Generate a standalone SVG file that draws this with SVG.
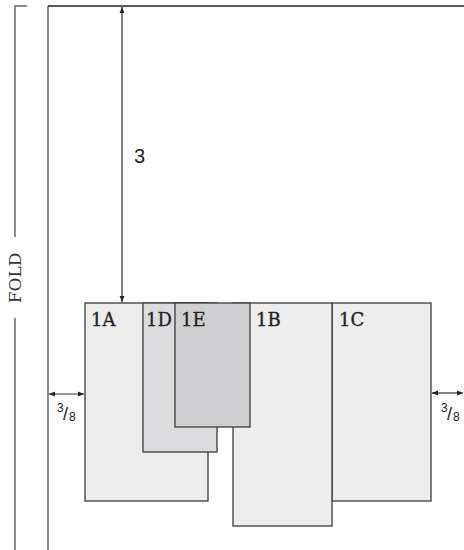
<svg xmlns="http://www.w3.org/2000/svg" width="464" height="550" viewBox="0 0 464 550">
<style>
.pg{fill:none;stroke:#666;stroke-width:1.5}
.pc{stroke:#222;stroke-width:1.6;fill:none}
.dim{stroke:#333;stroke-width:1.2;fill:none}
.p{stroke:#3a3a3a;stroke-width:1.3}
.l{fill:#ededed}.m{fill:#dcdcde}.d{fill:#cfcfd1}
.lab{font-family:"DejaVu Serif",serif;font-size:18px;fill:#222;stroke:#222;stroke-width:0.3}
.num{font-family:"Liberation Sans",sans-serif;fill:#222}
</style>
<defs>
<marker id="ah" viewBox="0 0 10 10" refX="10" refY="5" markerWidth="6" markerHeight="6" orient="auto-start-reverse" markerUnits="userSpaceOnUse">
<path d="M0,1 L10,5 L0,9 z" fill="#222"/>
</marker>
</defs>
<g id="fold">
<path class="pg" d="M27,6 H15 V237 M15,318 V550"/>
<text class="lab" transform="translate(21,278) rotate(-90)" text-anchor="middle" style="font-size:17px;stroke-width:0;fill:#333">FOLD</text>
</g>
<g id="page">
<path class="pg" d="M48,550 V6"/>
<path class="pc" d="M48,6 H464"/>
</g>
<g id="pieces">
<g id="p1A"><rect class="p l" x="85" y="303" width="123" height="198"/><text class="lab" x="91" y="326">1A</text></g>
<g id="p1C"><rect class="p l" x="332" y="303" width="99" height="198"/><text class="lab" x="339" y="326">1C</text></g>
<g id="p1B"><rect class="p l" x="233" y="303" width="99" height="223"/><text class="lab" x="256" y="326">1B</text></g>
<g id="p1D"><rect class="p m" x="143" y="303" width="74" height="149"/><text class="lab" x="146" y="326">1D</text></g>
<g id="p1E"><rect class="p d" x="175" y="303" width="75" height="124"/><text class="lab" x="181" y="326">1E</text></g>
</g>
<g id="connectors">
<line class="dim" x1="122" y1="7" x2="122" y2="302" marker-start="url(#ah)" marker-end="url(#ah)"/>
<line class="dim" x1="49" y1="394" x2="84" y2="394" marker-start="url(#ah)" marker-end="url(#ah)"/>
<line class="dim" x1="432" y1="393" x2="463" y2="393" marker-start="url(#ah)" marker-end="url(#ah)"/>
</g>
<g id="labels">
<text class="num" x="134" y="163" font-size="20">3</text>
<text class="num" font-size="12"><tspan x="57" y="412">3</tspan><tspan x="63" y="420" font-size="18">/</tspan><tspan x="69" y="421">8</tspan></text>
<text class="num" font-size="12"><tspan x="441" y="412">3</tspan><tspan x="447" y="420" font-size="18">/</tspan><tspan x="453" y="421">8</tspan></text>
</g>
</svg>
